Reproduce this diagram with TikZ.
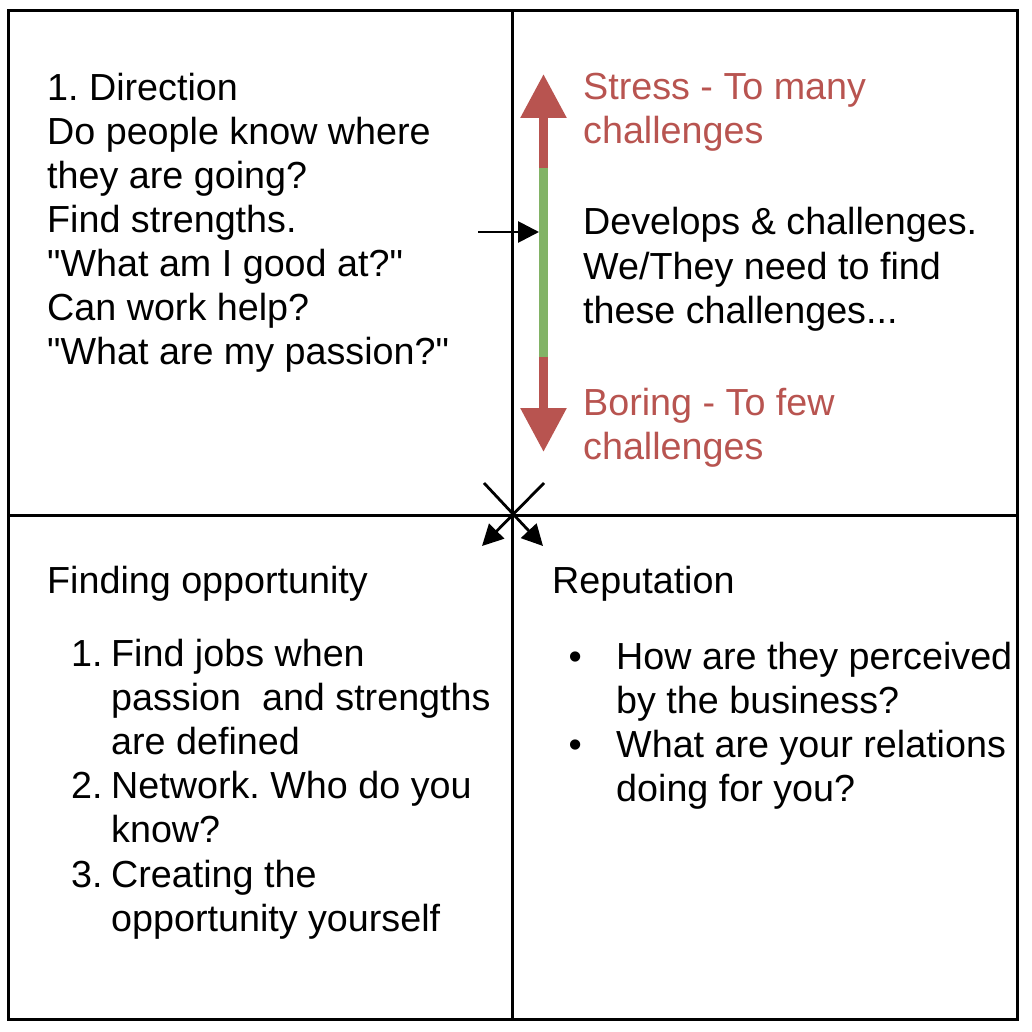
\documentclass[tikz,border=0pt]{standalone}
\usepackage{fontspec}
\setmainfont{Liberation Sans}[Ligatures=TeXOff]
\usetikzlibrary{arrows.meta}
\definecolor{redtxt}{HTML}{B85450}
\definecolor{greenbar}{HTML}{82B366}
\tikzset{
  quad/.style={draw=black, line width=3pt, inner sep=0pt, outer sep=0pt, minimum width=504pt, minimum height=504pt, anchor=north west},
  txt/.style={inner sep=0pt, anchor=base west, font=\fontsize{37.7}{44}\selectfont\frenchspacing},
  redtext/.style={txt, text=redtxt},
  thinarrow/.style={line width=2.8pt, -{Triangle[length=21pt,width=21pt]}},
  bigarrow/.style={line width=9pt, draw=redtxt, -{Triangle[length=44pt,width=44pt]}},
}
\begin{document}
\begin{tikzpicture}[x=1pt,y=-1pt]
\useasboundingbox (0,0) rectangle (1031,1032);
% quadrants
\node[quad] (q1) at (8.5,11) {};
\node[quad, minimum width=504.5pt] (q2) at (512.5,11) {};
\node[quad, minimum height=504.5pt] (q3) at (8.5,515) {};
\node[quad, minimum width=504.5pt, minimum height=504.5pt] (q4) at (512.5,515) {};
% left top text
\node[txt] (dir) at (47,100.5) {\parbox[t]{460pt}{\raggedright 1. Direction\\Do people know where\\they are going?\\Find strengths.\\"What am I good at?"\\Can work help?\\"What are my passion?"}};
% right top text
\node[redtext] (stress) at (583,99.5) {\parbox[t]{440pt}{\raggedright Stress - To many\\challenges}};
\node[txt] (dev) at (583,235) {\parbox[t]{440pt}{\raggedright Develops \& challenges.\\We/They need to find\\these challenges...}};
\node[redtext] (boring) at (583,415) {\parbox[t]{440pt}{\raggedright Boring - To few\\challenges}};
% vertical scale arrow
\coordinate (gtop) at (543.5,168);
\coordinate (gbot) at (543.5,357);
\coordinate (ttip) at (543.5,74);
\coordinate (btip) at (543.5,452);
\draw[line width=9pt, draw=greenbar] (gtop) -- (gbot);
\draw[bigarrow] (gtop) -- (ttip);
\draw[bigarrow] (gbot) -- (btip);
% small arrow
\coordinate (sa) at (478,232);
\coordinate (sb) at (539,232);
\draw[thinarrow] (sa) -- (sb);
% cross arrows
\coordinate (ctl) at (484,483);
\coordinate (ctr) at (544,483);
\coordinate (cbl) at (482,546);
\coordinate (cbr) at (543,546);
\draw[thinarrow] (ctr) -- (cbl);
\draw[thinarrow] (ctl) -- (cbr);
% bottom left
\node[txt] (find) at (47,593.5) {Finding opportunity};
\node[txt] (n1) at (71,666) {1.};
\node[txt] (i1) at (111,666) {\parbox[t]{400pt}{\raggedright Find jobs when\\passion\ \ and strengths\\are defined}};
\node[txt] (n2) at (71,798) {2.};
\node[txt] (i2) at (111,798) {\parbox[t]{400pt}{\raggedright Network. Who do you\\know?}};
\node[txt] (n3) at (71,887) {3.};
\node[txt] (i3) at (111,887) {\parbox[t]{400pt}{\raggedright Creating the\\opportunity yourself}};
% bottom right
\node[txt] (rep) at (552,593.5) {Reputation};
\node[txt] (b1) at (568.5,669) {•};
\node[txt] (r1) at (616,669) {\parbox[t]{420pt}{\raggedright How are they perceived\\by the business?}};
\node[txt] (b2) at (568.5,757) {•};
\node[txt] (r2) at (616,757) {\parbox[t]{420pt}{\raggedright What are your relations\\doing for you?}};
\end{tikzpicture}
\end{document}
